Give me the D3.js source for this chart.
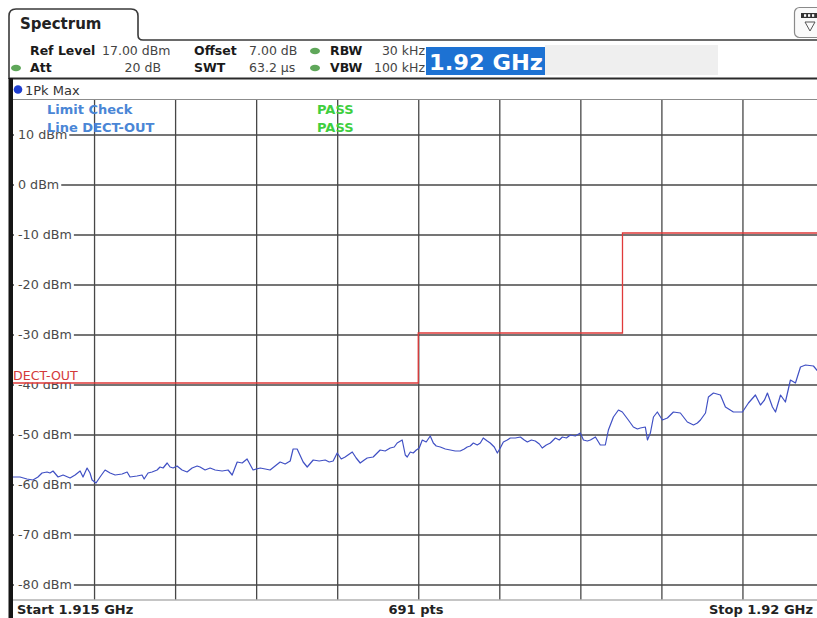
<!DOCTYPE html>
<html>
<head>
<meta charset="utf-8">
<script src="https://cdn.jsdelivr.net/npm/d3@7"></script>
<style>
  html, body { margin: 0; padding: 0; background: #fff; }
  svg { display: block; font-family: "DejaVu Sans", Verdana, sans-serif; }
</style>
</head>
<body>
<svg id="chart" width="817" height="618"></svg>
<script>
// ---------- DATA ----------
const startMHz = 1915;
const stopMHz = 1920;
const refLevel = 17;          // dBm (top of screen)
const bottomLevel = -83;      // dBm (bottom of screen)
const xGridMHz = [1915.5, 1916, 1916.5, 1917, 1917.5, 1918, 1918.5, 1919, 1919.5];
const yTickValues = [10, 0, -10, -20, -30, -40, -50, -60, -70, -80];
const yTickLabels = ["10 dBm", "0 dBm", "-10 dBm", "-20 dBm", "-30 dBm", "-40 dBm", "-50 dBm", "-60 dBm", "-70 dBm", "-80 dBm"];

// Limit line DECT-OUT
const limitMHz   = [1915, 1917.5, 1917.5, 1918.76, 1918.76, 1920];
const limitLevel = [-40, -40, -30, -30, -10, -10];

// Trace 1Pk Max : frequency offset from start (MHz) and level (dBm)
const traceOffsetMHz = [0.000,0.043,0.086,0.123,0.154,0.179,0.210,0.228,0.247,0.278,0.309,0.352,0.383,0.414,0.432,0.457,0.475,0.488,0.512,0.537,0.568,0.599,0.630,0.673,0.704,0.722,0.765,0.796,0.809,0.833,0.858,0.889,0.907,0.926,0.951,0.969,0.988,1.012,1.043,1.074,1.105,1.136,1.154,1.185,1.216,1.247,1.290,1.327,1.352,1.383,1.414,1.444,1.481,1.525,1.556,1.586,1.617,1.648,1.679,1.710,1.728,1.753,1.790,1.815,1.852,1.889,1.926,1.951,1.975,2.000,2.025,2.049,2.093,2.117,2.142,2.167,2.185,2.222,2.265,2.296,2.327,2.352,2.370,2.401,2.420,2.432,2.451,2.469,2.488,2.506,2.525,2.549,2.574,2.593,2.611,2.636,2.667,2.698,2.728,2.759,2.784,2.802,2.821,2.840,2.864,2.883,2.901,2.926,2.944,2.969,2.988,3.006,3.025,3.049,3.068,3.099,3.130,3.154,3.173,3.198,3.222,3.247,3.265,3.290,3.315,3.346,3.370,3.389,3.414,3.438,3.469,3.500,3.519,3.543,3.562,3.593,3.623,3.654,3.673,3.704,3.735,3.759,3.796,3.827,3.852,3.870,3.901,3.914,3.932,3.951,3.975,4.006,4.037,4.074,4.117,4.160,4.198,4.222,4.241,4.272,4.290,4.321,4.364,4.395,4.444,4.500,4.537,4.580,4.611,4.636,4.654,4.685,4.704,4.735,4.765,4.796,4.827,4.858,4.889,4.938,4.969,5.000];
const traceLevel = [-58.5,-58.5,-58.9,-59.1,-58.5,-57.7,-57.5,-57.7,-57.3,-58.5,-58.1,-58.7,-58.1,-57.3,-58.5,-56.7,-57.7,-59.1,-59.7,-58.5,-57.1,-57.7,-58.1,-57.9,-57.5,-58.5,-58.3,-58.1,-58.9,-57.7,-57.5,-57.1,-56.5,-56.7,-55.7,-56.5,-56.7,-56.3,-57.1,-57.5,-56.7,-56.3,-56.5,-57.1,-56.7,-57.1,-57.3,-57.1,-58.1,-55.5,-55.7,-54.9,-57.1,-56.7,-56.9,-57.1,-56.3,-55.5,-55.9,-55.3,-52.9,-52.9,-55.5,-56.5,-55.1,-55.3,-55.1,-55.5,-55.3,-53.7,-54.9,-54.5,-53.5,-54.7,-55.7,-55.1,-54.7,-54.5,-53.1,-53.3,-52.7,-52.5,-51.7,-51.1,-54.1,-54.5,-53.5,-53.7,-53.1,-52.7,-51.1,-51.5,-50.3,-51.7,-52.3,-52.5,-52.9,-53.1,-53.3,-53.3,-52.9,-52.5,-52.3,-51.7,-52.1,-51.7,-50.7,-51.3,-51.7,-52.5,-53.7,-52.7,-51.5,-51.1,-50.7,-50.7,-50.5,-51.1,-51.5,-51.1,-51.3,-51.9,-52.7,-52.1,-51.7,-50.7,-51.1,-50.5,-50.7,-50.1,-50.3,-49.7,-51.1,-51.3,-51.1,-50.5,-52.1,-52.1,-49.1,-46.5,-45.1,-45.5,-47.1,-48.5,-48.9,-48.7,-48.5,-51.1,-49.7,-46.5,-45.5,-47.1,-46.7,-45.5,-45.7,-47.5,-48.1,-47.7,-47.1,-45.7,-42.5,-41.7,-42.1,-44.5,-45.5,-45.5,-43.7,-42.1,-44.1,-43.1,-41.7,-44.5,-45.5,-42.1,-43.5,-39.1,-39.7,-36.5,-36.1,-36.3,-37.5,-37.5];

// Header texts
const paramRow1 = [["Ref Level", "bold", "start"], ["17.00 dBm", "normal", "start"], ["Offset", "bold", "start"], ["7.00 dB", "normal", "start"], ["RBW", "bold", "start"], ["30 kHz", "normal", "end"]];
const paramRow2 = [["Att", "bold", "start"], ["20 dB", "normal", "end"], ["SWT", "bold", "start"], ["63.2 µs", "normal", "start"], ["VBW", "bold", "start"], ["100 kHz", "normal", "end"]];
const paramX = [30, 102, 194, 249, 330, 425];
const paramX2 = [30, 161, 194, 249, 330, 425];

// ---------- DRAW ----------
const svg = d3.select("#chart");
const W = 817, H = 618;
const plot = {left: 13, right: 823.5, top: 99.5, bottom: 599.5};

const x = d3.scaleLinear().domain([startMHz, stopMHz]).range([plot.left, plot.right]);
const y = d3.scaleLinear().domain([bottomLevel, refLevel]).range([plot.bottom, plot.top]);

svg.append("rect").attr("width", W).attr("height", H).attr("fill", "#fff");

// ----- Header -----
svg.append("path")
  .attr("d", "M9,79 V16 Q9,9 16,9 H131 Q138,9 138,16 V35 Q138,40 143,40 H817")
  .attr("fill", "none").attr("stroke", "#3a3a3a").attr("stroke-width", 1.6);
svg.append("text").attr("x", 20).attr("y", 29).attr("font-size", 15).attr("font-weight", "bold")
  .attr("fill", "#222").text("Spectrum");

// top-right icon
const icon = svg.append("g");
icon.append("rect").attr("x", 794.5).attr("y", 7.5).attr("width", 30).attr("height", 30).attr("rx", 5)
  .attr("fill", "#fafafa").attr("stroke", "#8a8a8a").attr("stroke-width", 1.2);
icon.append("rect").attr("x", 801).attr("y", 13).attr("width", 16).attr("height", 5).attr("fill", "#333");
[804, 808, 812].forEach(px => icon.append("rect").attr("x", px).attr("y", 14.2).attr("width", 2.2).attr("height", 2.6).attr("fill", "#fafafa"));
icon.append("path").attr("d", "M805,22 L815,22 L810,31 Z").attr("fill", "none").attr("stroke", "#555").attr("stroke-width", 1);

// frequency display boxes
svg.append("rect").attr("x", 545).attr("y", 45).attr("width", 173).attr("height", 30).attr("fill", "#efefef");
svg.append("rect").attr("x", 426).attr("y", 47).attr("width", 119).attr("height", 28).attr("fill", "#1d72d3");
svg.append("text").attr("x", 429).attr("y", 70).attr("font-size", 22).attr("font-weight", "bold")
  .attr("fill", "#fff").attr("textLength", 114).attr("lengthAdjust", "spacingAndGlyphs").text("1.92 GHz");

function paramRow(row, xs, baseY) {
  row.forEach((d, i) => {
    svg.append("text").attr("x", xs[i]).attr("y", baseY)
      .attr("font-size", 12.5).attr("font-weight", d[1]).attr("text-anchor", d[2])
      .attr("fill", d[1] === "bold" ? "#1a1a1a" : "#444").text(d[0]);
  });
}
paramRow(paramRow1, paramX, 55);
paramRow(paramRow2, paramX2, 72);
[[16, 68], [315, 51], [315, 68]].forEach(p => {
  svg.append("ellipse").attr("cx", p[0]).attr("cy", p[1]).attr("rx", 5).attr("ry", 3.3).attr("fill", "#5fa75a");
});

svg.append("line").attr("x1", 9).attr("x2", W).attr("y1", 78.5).attr("y2", 78.5)
  .attr("stroke", "#2a2a2a").attr("stroke-width", 2.2);

// trace info row
svg.append("circle").attr("cx", 18).attr("cy", 89.5).attr("r", 4.3).attr("fill", "#1f3fd0");
svg.append("text").attr("x", 25).attr("y", 94.5).attr("font-size", 13).attr("fill", "#333").text("1Pk Max");

// ----- Grid -----
const gx = svg.append("g").attr("transform", `translate(0,${plot.bottom})`)
  .call(d3.axisBottom(x).tickValues(xGridMHz).tickSize(-(plot.bottom - plot.top)).tickFormat(""));
gx.select(".domain").remove();
gx.selectAll("line").attr("stroke", "#474747").attr("stroke-width", 1.3);

const gy = svg.append("g").attr("transform", `translate(${plot.left},0)`)
  .call(d3.axisRight(y).tickValues(yTickValues).tickSize(plot.right - plot.left).tickFormat(""));
gy.select(".domain").remove();
gy.selectAll("line").attr("stroke", "#474747").attr("stroke-width", 1.3);

svg.append("line").attr("x1", plot.left).attr("x2", W).attr("y1", plot.top).attr("y2", plot.top)
  .attr("stroke", "#8c8c8c").attr("stroke-width", 1.2);
svg.append("line").attr("x1", plot.left).attr("x2", W).attr("y1", plot.bottom + 0.5).attr("y2", plot.bottom + 0.5)
  .attr("stroke", "#8c8c8c").attr("stroke-width", 1.2);

// y tick labels with white background
const yl = svg.append("g");
yTickValues.forEach((v, i) => {
  const g = yl.append("g");
  const t = g.append("text").attr("x", 18).attr("y", y(v)).attr("dy", "0.36em")
    .attr("font-size", 12.7).attr("fill", "#4a4a4a").text(yTickLabels[i]);
  const bb = t.node().getBBox();
  g.insert("rect", "text").attr("x", plot.left + 1).attr("y", y(v) - 2).attr("width", bb.x + bb.width - plot.left + 1).attr("height", 4).attr("fill", "#fff");
});

// limit label
const ll = svg.append("g");
const llt = ll.append("text").attr("x", 13).attr("y", y(limitLevel[0]) - 5).attr("font-size", 12.6)
  .attr("fill", "#d43a3a").text("DECT-OUT");
const llb = llt.node().getBBox();
ll.insert("rect", "text").attr("x", llb.x).attr("y", llb.y + 1).attr("width", llb.width).attr("height", llb.height - 1).attr("fill", "#fff");

// limit check texts
svg.append("text").attr("x", 47).attr("y", 113.5).attr("font-size", 13).attr("font-weight", "bold").attr("fill", "#4a86d6").text("Limit Check");
svg.append("text").attr("x", 47).attr("y", 131.5).attr("font-size", 13).attr("font-weight", "bold").attr("fill", "#4a86d6").text("Line DECT-OUT");
svg.append("text").attr("x", 317).attr("y", 113.5).attr("font-size", 13).attr("font-weight", "bold").attr("fill", "#3fcf3f").text("PASS");
svg.append("text").attr("x", 317).attr("y", 131.5).attr("font-size", 13).attr("font-weight", "bold").attr("fill", "#3fcf3f").text("PASS");

// limit line (drawn just above grid, as on the instrument)
const limitData = limitMHz.map((f, i) => [f, limitLevel[i]]);
svg.append("path").datum(limitData)
  .attr("transform", "translate(0,-1.5)")
  .attr("d", d3.line().x(d => x(d[0])).y(d => y(d[1])))
  .attr("fill", "none").attr("stroke", "#e03a3a").attr("stroke-width", 1.3);

// trace
const traceData = traceOffsetMHz.map((o, i) => [startMHz + o, traceLevel[i]]);
svg.append("path").datum(traceData)
  .attr("d", d3.line().x(d => x(d[0])).y(d => y(d[1])))
  .attr("fill", "none").attr("stroke", "#4050c4").attr("stroke-width", 1.2).attr("stroke-linejoin", "round");

// left thick border
svg.append("rect").attr("x", 8.5).attr("y", 78).attr("width", 4.5).attr("height", H - 78).attr("fill", "#151515");

// bottom bar
svg.append("text").attr("x", 17).attr("y", 613.5).attr("font-size", 13).attr("font-weight", "bold").attr("fill", "#222").text("Start 1.915 GHz");
svg.append("text").attr("x", 416).attr("y", 613.5).attr("font-size", 13).attr("font-weight", "bold").attr("text-anchor", "middle").attr("fill", "#222").text("691 pts");
svg.append("text").attr("x", 813).attr("y", 613.5).attr("font-size", 13).attr("font-weight", "bold").attr("text-anchor", "end").attr("fill", "#222").text("Stop 1.92 GHz");
</script>
</body>
</html>
